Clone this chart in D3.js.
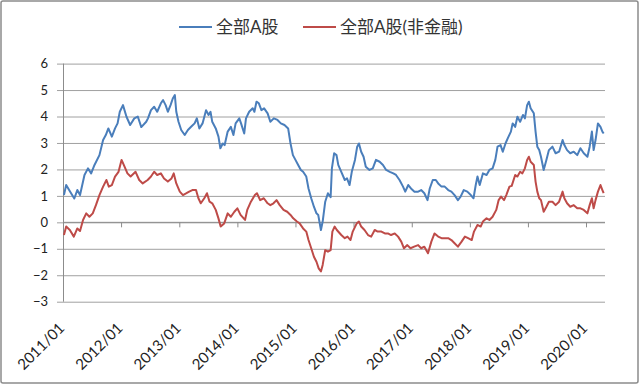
<!DOCTYPE html>
<html>
<head>
<meta charset="utf-8">
<script src="https://cdn.jsdelivr.net/npm/d3@7"></script>
<style>
	body { margin: 0; background: #fff; }
	svg { display: block; font-family: Lato, "Noto Sans CJK SC", sans-serif; }
</style>
</head>
<body>
<svg id="chart" width="640" height="385"></svg>
<script>
/*=================
=== The data
=================*/
var seriesNames = ['全部A股', '全部A股(非金融)'];
var seriesColors = ['#4a7ebb', '#be4b48'];
var yTicks = [-3, -2, -1, 0, 1, 2, 3, 4, 5, 6];

// 全部A股
var allDates = [
	'2011-01-07', '2011-01-21', '2011-02-16', '2011-03-13', '2011-04-01', '2011-04-18', '2011-05-16', '2011-06-07',
	'2011-06-27', '2011-07-18', '2011-08-18', '2011-09-10', '2011-09-27', '2011-10-13', '2011-11-04', '2011-11-24',
	'2011-12-10', '2011-12-24', '2012-01-13', '2012-02-04', '2012-02-27', '2012-03-24', '2012-04-15', '2012-05-07',
	'2012-06-07', '2012-06-18', '2012-07-07', '2012-07-27', '2012-08-15', '2012-09-07', '2012-09-21', '2012-10-07',
	'2012-10-21', '2012-11-07', '2012-11-21', '2012-12-04', '2012-12-13', '2012-12-27', '2013-01-13', '2013-02-04',
	'2013-02-24', '2013-03-16', '2013-04-07', '2013-04-21', '2013-05-07', '2013-05-27', '2013-06-18', '2013-07-04',
	'2013-07-16', '2013-07-27', '2013-08-18', '2013-09-04', '2013-09-16', '2013-10-01', '2013-10-13', '2013-11-01',
	'2013-11-21', '2013-12-07', '2013-12-21', '2014-01-13', '2014-01-24', '2014-02-13', '2014-02-24', '2014-03-16',
	'2014-04-07', '2014-04-18', '2014-05-01', '2014-05-16', '2014-06-01', '2014-06-18', '2014-07-10', '2014-07-27',
	'2014-08-18', '2014-09-10', '2014-10-01', '2014-10-24', '2014-11-16', '2014-12-01', '2014-12-16', '2015-01-01',
	'2015-01-18', '2015-02-04', '2015-02-18', '2015-03-10', '2015-03-24', '2015-04-10', '2015-04-27', '2015-05-13',
	'2015-05-24', '2015-06-10', '2015-06-21', '2015-07-07', '2015-07-24', '2015-08-10', '2015-08-18', '2015-09-01',
	'2015-09-16', '2015-09-27', '2015-10-16', '2015-11-07', '2015-11-21', '2015-12-07', '2015-12-21', '2016-01-10',
	'2016-01-24', '2016-02-04', '2016-02-18', '2016-03-04', '2016-03-18', '2016-04-10', '2016-05-01', '2016-05-21',
	'2016-06-13', '2016-07-04', '2016-07-24', '2016-08-16', '2016-09-07', '2016-09-24', '2016-10-16', '2016-11-07',
	'2016-11-21', '2016-12-10', '2016-12-27', '2017-01-18', '2017-02-10', '2017-03-01', '2017-03-21', '2017-04-10',
	'2017-04-24', '2017-05-13', '2017-06-01', '2017-06-16', '2017-07-07', '2017-07-27', '2017-08-18', '2017-09-07',
	'2017-09-27', '2017-10-18', '2017-11-04', '2017-11-24', '2017-12-16', '2018-01-07', '2018-01-24', '2018-02-07',
	'2018-02-18', '2018-03-04', '2018-03-24', '2018-04-16', '2018-05-04', '2018-05-24', '2018-06-10', '2018-06-24',
	'2018-07-13', '2018-07-27', '2018-08-13', '2018-08-27', '2018-09-16', '2018-09-27', '2018-10-13', '2018-10-27',
	'2018-11-13', '2018-12-01', '2018-12-13', '2018-12-27', '2019-01-07', '2019-01-18', '2019-02-07', '2019-02-18',
	'2019-03-01', '2019-03-13', '2019-03-24', '2019-04-10', '2019-04-27', '2019-05-13', '2019-06-04', '2019-06-24',
	'2019-07-16', '2019-08-07', '2019-08-18', '2019-09-04', '2019-09-24', '2019-10-16', '2019-11-07', '2019-11-27',
	'2019-12-18', '2020-01-10', '2020-01-24', '2020-02-07', '2020-02-18', '2020-03-01', '2020-03-16', '2020-04-01',
	'2020-04-13', '2020-04-21'
];
var allValues = [
	1.03, 1.41, 1.15, 0.90, 1.22, 1.03, 1.79, 2.04,
	1.85, 2.17, 2.54, 3.11, 3.30, 3.55, 3.24, 3.55,
	3.74, 4.18, 4.43, 3.99, 3.68, 3.93, 4.00, 3.60,
	3.80, 3.93, 4.24, 4.37, 4.18, 4.50, 4.62, 4.43,
	4.18, 4.43, 4.68, 4.81, 4.18, 3.80, 3.49, 3.30,
	3.49, 3.61, 3.74, 3.93, 3.55, 3.74, 4.24, 4.06,
	4.18, 3.80, 3.55, 3.24, 2.80, 2.98, 2.92, 3.43,
	3.61, 3.30, 3.74, 3.93, 3.74, 3.36, 3.93, 4.18,
	4.31, 4.18, 4.56, 4.50, 4.24, 4.31, 4.12, 3.80,
	3.93, 3.87, 3.74, 3.68, 3.55, 2.98, 2.54, 2.36,
	2.17, 1.98, 1.91, 1.73, 1.28, 0.91, 0.59, 0.34,
	0.28, -0.29, 0.03, 0.78, 1.10, 0.95, 2.04, 2.61,
	2.54, 2.17, 1.91, 1.60, 1.66, 1.41, 1.91, 2.36,
	2.86, 2.98, 2.67, 2.48, 2.10, 1.98, 2.04, 2.36,
	2.29, 2.17, 1.98, 1.91, 1.85, 1.79, 1.60, 1.35,
	1.16, 1.41, 1.28, 1.16, 1.16, 1.22, 1.10, 0.84,
	1.28, 1.60, 1.60, 1.47, 1.35, 1.35, 1.22, 1.16,
	1.03, 0.84, 0.97, 1.22, 1.16, 1.03, 0.91, 1.41,
	1.73, 1.41, 1.85, 1.79, 1.98, 2.04, 2.36, 2.86,
	2.92, 2.67, 2.98, 3.17, 3.43, 3.74, 3.61, 3.99,
	3.80, 4.06, 3.93, 4.43, 4.56, 4.31, 4.12, 3.43,
	2.86, 2.73, 2.48, 1.98, 2.36, 2.73, 2.86, 2.61,
	2.67, 3.11, 2.92, 2.73, 2.61, 2.67, 2.54, 2.80,
	2.61, 2.48, 2.86, 3.43, 2.73, 3.11, 3.74, 3.61,
	3.43, 3.36
];

// 全部A股(非金融)
var nonFinDates = [
	'2011-01-07', '2011-01-21', '2011-02-13', '2011-03-10', '2011-04-01', '2011-04-18', '2011-05-07', '2011-05-27',
	'2011-06-16', '2011-07-07', '2011-07-27', '2011-08-18', '2011-09-10', '2011-10-01', '2011-10-16', '2011-11-04',
	'2011-11-24', '2011-12-16', '2012-01-04', '2012-01-18', '2012-02-10', '2012-03-01', '2012-04-01', '2012-04-24',
	'2012-05-16', '2012-06-16', '2012-07-07', '2012-07-27', '2012-08-15', '2012-09-07', '2012-09-27', '2012-10-21',
	'2012-11-13', '2012-11-27', '2012-12-13', '2013-01-04', '2013-01-24', '2013-02-15', '2013-03-04', '2013-03-24',
	'2013-04-16', '2013-05-01', '2013-05-16', '2013-06-07', '2013-06-24', '2013-07-10', '2013-07-27', '2013-08-18',
	'2013-09-04', '2013-09-18', '2013-10-10', '2013-11-01', '2013-11-21', '2013-12-13', '2014-01-01', '2014-01-21',
	'2014-02-18', '2014-03-04', '2014-03-27', '2014-04-21', '2014-05-04', '2014-05-24', '2014-06-16', '2014-07-10',
	'2014-07-27', '2014-08-16', '2014-09-04', '2014-09-24', '2014-10-18', '2014-11-10', '2014-12-01', '2014-12-18',
	'2015-01-10', '2015-01-27', '2015-02-18', '2015-03-10', '2015-03-24', '2015-04-10', '2015-04-27', '2015-05-13',
	'2015-05-27', '2015-06-10', '2015-06-21', '2015-07-07', '2015-07-24', '2015-08-10', '2015-08-21', '2015-09-04',
	'2015-09-18', '2015-10-16', '2015-11-07', '2015-11-24', '2015-12-13', '2015-12-27', '2016-01-21', '2016-02-04',
	'2016-02-18', '2016-03-10', '2016-04-01', '2016-04-21', '2016-05-13', '2016-06-01', '2016-06-24', '2016-07-16',
	'2016-08-04', '2016-08-24', '2016-09-16', '2016-10-07', '2016-10-27', '2016-11-13', '2016-12-04', '2016-12-24',
	'2017-01-16', '2017-02-10', '2017-03-01', '2017-03-21', '2017-04-13', '2017-05-04', '2017-05-24', '2017-06-16',
	'2017-07-07', '2017-08-18', '2017-09-07', '2017-09-27', '2017-10-18', '2017-11-10', '2017-12-01', '2017-12-21',
	'2018-01-13', '2018-01-27', '2018-02-18', '2018-03-10', '2018-03-24', '2018-04-16', '2018-05-04', '2018-05-24',
	'2018-06-16', '2018-07-01', '2018-07-16', '2018-08-04', '2018-08-18', '2018-09-07', '2018-09-21', '2018-10-13',
	'2018-10-27', '2018-11-13', '2018-11-27', '2018-12-13', '2018-12-27', '2019-01-07', '2019-01-18', '2019-02-07',
	'2019-02-18', '2019-03-01', '2019-03-13', '2019-03-24', '2019-04-10', '2019-04-27', '2019-05-13', '2019-06-04',
	'2019-06-24', '2019-07-16', '2019-08-07', '2019-08-18', '2019-09-04', '2019-09-24', '2019-10-16', '2019-11-07',
	'2019-11-27', '2019-12-18', '2020-01-10', '2020-01-24', '2020-02-07', '2020-02-18', '2020-03-01', '2020-03-16',
	'2020-04-01', '2020-04-13', '2020-04-21'
];
var nonFinValues = [
	-0.48, -0.16, -0.29, -0.54, -0.23, -0.33, 0.09, 0.34,
	0.21, 0.34, 0.65, 1.03, 1.35, 1.60, 1.35, 1.41,
	1.73, 1.91, 2.36, 2.17, 1.85, 1.73, 1.91, 1.60,
	1.47, 1.60, 1.73, 1.91, 1.79, 1.85, 1.66, 1.54,
	1.66, 1.85, 1.47, 1.16, 1.03, 1.10, 1.16, 1.22,
	1.22, 0.91, 0.72, 0.91, 1.10, 0.78, 0.72, 0.47,
	0.15, -0.16, -0.04, 0.34, 0.21, 0.40, 0.53, 0.28,
	0.09, 0.47, 0.78, 1.03, 1.10, 0.84, 0.91, 0.72,
	0.65, 0.72, 0.84, 0.65, 0.47, 0.40, 0.28, 0.15,
	0.03, -0.04, -0.23, -0.35, -0.67, -0.98, -1.30, -1.49,
	-1.74, -1.86, -1.61, -1.05, -1.11, -1.05, -0.35, -0.16,
	-0.29, -0.48, -0.60, -0.54, -0.67, -0.35, -0.04, 0.03,
	-0.16, -0.29, -0.48, -0.54, -0.29, -0.35, -0.35, -0.42,
	-0.42, -0.48, -0.42, -0.54, -0.73, -0.98, -0.86, -0.98,
	-0.92, -0.86, -0.98, -0.92, -1.17, -0.73, -0.42, -0.54,
	-0.60, -0.60, -0.67, -0.79, -0.92, -0.73, -0.54, -0.60,
	-0.67, -0.35, -0.10, -0.16, 0.03, 0.15, 0.09, 0.21,
	0.47, 0.84, 0.97, 0.84, 1.03, 1.35, 1.38, 1.79,
	1.73, 1.91, 1.85, 2.04, 2.36, 2.48, 2.29, 2.17,
	1.54, 1.16, 0.91, 0.84, 0.40, 0.59, 0.78, 0.78,
	0.65, 0.78, 1.16, 0.91, 0.72, 0.59, 0.65, 0.53,
	0.53, 0.47, 0.34, 0.65, 0.91, 0.53, 0.84, 1.16,
	1.41, 1.22, 1.10
];

/*=================
=== The vars
=================*/
var parseDay = d3.timeParse('%Y-%m-%d');
var plotLeft = 63, plotRight = 605;

var svg = d3.select('#chart');

var x = d3.scaleTime()
	.domain([new Date(2011, 0, 1), new Date(2020, 0, 1)])
	.range([plotLeft, 586]);
var y = d3.scaleLinear().domain([-3, 6]).range([301.7, 63.6]);

var series = [
	allDates.map(function (d, i) { return { date: parseDay(d), value: allValues[i] }; }),
	nonFinDates.map(function (d, i) { return { date: parseDay(d), value: nonFinValues[i] }; })
];

var myLine = d3.line()
	.x(function (d) { return x(d.date); })
	.y(function (d) { return y(d.value); });

// outer frame
svg.append('rect')
	.attr('x', 1).attr('y', 1)
	.attr('width', 637).attr('height', 382)
	.attr('rx', 2)
	.attr('fill', '#fff')
	.attr('stroke', '#8c8c8c')
	.attr('stroke-width', 1.5);

// y gridlines + labels (axis hung on the right so ticks run across the plot)
var yAxis = svg.append('g')
	.attr('transform', 'translate(' + plotRight + ',0)')
	.call(d3.axisLeft(y).tickValues(yTicks).tickSize(plotRight - plotLeft + 6).tickPadding(9).tickFormat(d3.format('d')));
yAxis.select('.domain').remove();
yAxis.selectAll('line').attr('stroke', '#a0a0a0');
yAxis.selectAll('text')
	.attr('fill', '#222')
	.style('font-size', '13px')
	.style('font-family', 'Lato, sans-serif');

// vertical axis line
svg.append('line')
	.attr('x1', plotLeft + 0.5).attr('x2', plotLeft + 0.5)
	.attr('y1', y(6)).attr('y2', y(-3))
	.attr('stroke', '#8c8c8c');

// x axis sits on zero, labels at the bottom
var xAxis = svg.append('g')
	.attr('transform', 'translate(0,' + y(0) + ')')
	.call(d3.axisBottom(x).ticks(d3.timeYear.every(1)).tickSize(5).tickFormat(d3.timeFormat('%Y/%m')));
xAxis.select('.domain').remove();
xAxis.selectAll('line').attr('stroke', '#8c8c8c');
xAxis.selectAll('text')
	.attr('y', 0).attr('dy', 0)
	.attr('text-anchor', 'end')
	.attr('transform', 'translate(2,' + (329 - y(0)) + ') rotate(-45)')
	.attr('fill', '#222')
	.style('font-size', '15px')
	.style('font-family', 'Lato, sans-serif');

svg.append('line')
	.attr('x1', plotLeft).attr('x2', plotRight)
	.attr('y1', y(0)).attr('y2', y(0))
	.attr('stroke', '#8c8c8c');

// the two lines
svg.selectAll('.series')
	.data(series)
	.enter()
	.append('path')
	.attr('class', 'series')
	.attr('d', myLine)
	.attr('fill', 'none')
	.attr('stroke', function (d, i) { return seriesColors[i]; })
	.attr('stroke-width', 2)
	.attr('stroke-linejoin', 'round');

// legend
var legendX = [179, 303];
var legend = svg.selectAll('.legend')
	.data(seriesNames)
	.enter()
	.append('g')
	.attr('class', 'legend')
	.attr('transform', function (d, i) { return 'translate(' + legendX[i] + ',27)'; });

legend.append('line')
	.attr('x1', 0).attr('x2', 33)
	.attr('stroke', function (d, i) { return seriesColors[i]; })
	.attr('stroke-width', 2);

legend.append('text')
	.attr('x', 37)
	.attr('dy', '0.36em')
	.attr('fill', '#333')
	.style('font-size', '17px')
	.text(function (d) { return d; });
</script>
</body>
</html>
